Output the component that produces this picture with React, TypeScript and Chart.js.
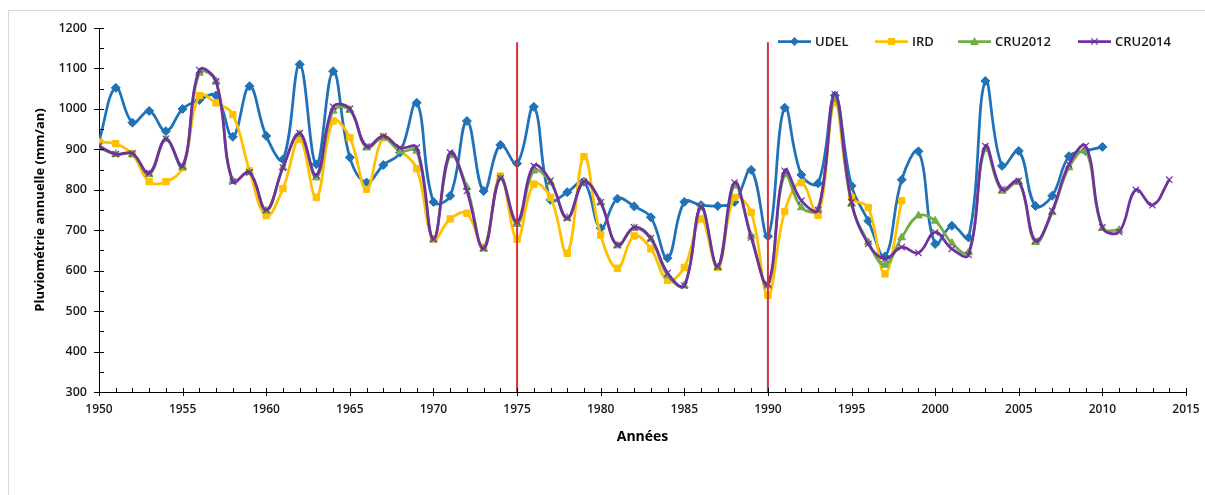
import React, { useEffect, useRef } from "react";
import { Chart, registerables } from "chart.js";

Chart.register(...registerables);

const years = [
  1950, 1951, 1952, 1953, 1954, 1955, 1956, 1957, 1958, 1959,
  1960, 1961, 1962, 1963, 1964, 1965, 1966, 1967, 1968, 1969,
  1970, 1971, 1972, 1973, 1974, 1975, 1976, 1977, 1978, 1979,
  1980, 1981, 1982, 1983, 1984, 1985, 1986, 1987, 1988, 1989,
  1990, 1991, 1992, 1993, 1994, 1995, 1996, 1997, 1998, 1999,
  2000, 2001, 2002, 2003, 2004, 2005, 2006, 2007, 2008, 2009,
  2010, 2011, 2012, 2013, 2014,
];

// 1950-2010
const udel = [
  920, 1052, 966, 995, 945, 1000, 1022, 1033, 931, 1056,
  933, 875, 1110, 863, 1093, 880, 818, 861, 892, 1015,
  770, 785, 970, 797, 911, 865, 1005, 775, 794, 820,
  705, 778, 759, 732, 631, 770, 762, 760, 770, 849,
  685, 1003, 837, 816, 1033, 810, 723, 635, 825, 895,
  666, 711, 682, 1069, 859, 896, 760, 785, 883, 896,
  906,
];

// 1950-1998
const ird = [
  918, 914, 888, 820, 820, 855, 1033, 1015, 986, 847,
  736, 803, 925, 781, 970, 929, 801, 929, 898, 852,
  678, 728, 742, 658, 834, 678, 814, 781, 643, 882,
  688, 606, 686, 654, 576, 608, 728, 608, 781, 744,
  539, 746, 818, 737, 1015, 781, 756, 592, 773,
];

// 1950-2011
const cru2012 = [
  904, 888, 888, 838, 925, 855, 1089, 1068, 822, 843,
  748, 855, 937, 830, 995, 997, 904, 929, 896, 896,
  677, 885, 806, 654, 830, 715, 847, 818, 730, 820,
  769, 662, 705, 678, 588, 563, 756, 608, 810, 686,
  563, 838, 756, 752, 1024, 765, 670, 614, 682, 736,
  723, 668, 645, 900, 797, 819, 670, 744, 855, 896,
  705, 700,
];

// 1950-2014
const cru2014 = [
  908, 888, 890, 841, 926, 859, 1096, 1068, 820, 843,
  750, 855, 940, 836, 1005, 1000, 907, 933, 904, 904,
  678, 892, 797, 655, 828, 721, 859, 822, 730, 820,
  769, 663, 707, 680, 594, 563, 758, 610, 818, 682,
  567, 847, 773, 750, 1036, 769, 666, 629, 658, 644,
  695, 654, 639, 908, 801, 822, 674, 748, 863, 908,
  707, 696, 800, 762, 825,
];

const breakYears = [1975, 1990];
const breakTop = 1165;

const seriesNames = ["UDEL", "IRD", "CRU2012", "CRU2014"];
const seriesColors = ["#1F72B8", "#FFC000", "#70AD47", "#7030A0"];
const seriesMarkers = ["rectRot", "rect", "triangle", "crossRot"];

const FONT = "'Open Sans', 'Liberation Sans', sans-serif";

function toPoints(vals: number[]) {
  return vals.map((v, i) => ({ x: years[i], y: v }));
}

function drawMarker(ctx: CanvasRenderingContext2D, type: string, x: number, y: number, r: number, color: string) {
  ctx.save();
  ctx.fillStyle = color;
  ctx.strokeStyle = color;
  ctx.beginPath();
  if (type === "rectRot") {
    ctx.moveTo(x, y - r);
    ctx.lineTo(x + r, y);
    ctx.lineTo(x, y + r);
    ctx.lineTo(x - r, y);
    ctx.closePath();
    ctx.fill();
  } else if (type === "rect") {
    ctx.rect(x - r * 0.8, y - r * 0.8, r * 1.6, r * 1.6);
    ctx.fill();
  } else if (type === "triangle") {
    ctx.moveTo(x, y - r);
    ctx.lineTo(x + r, y + r * 0.8);
    ctx.lineTo(x - r, y + r * 0.8);
    ctx.closePath();
    ctx.fill();
  } else {
    ctx.lineWidth = 1.2;
    ctx.moveTo(x - r * 0.7, y - r * 0.7);
    ctx.lineTo(x + r * 0.7, y + r * 0.7);
    ctx.moveTo(x + r * 0.7, y - r * 0.7);
    ctx.lineTo(x - r * 0.7, y + r * 0.7);
    ctx.stroke();
  }
  ctx.restore();
}

const customPlugin = {
  id: "excelDecor",
  afterDraw(chart: any) {
    const ctx: CanvasRenderingContext2D = chart.ctx;
    const xs = chart.scales.x;
    const ys = chart.scales.y;
    const axisY = ys.getPixelForValue(300);
    const axisX = xs.getPixelForValue(1950);
    ctx.save();
    ctx.strokeStyle = "#000";
    ctx.lineWidth = 1;
    for (let yr = 1950; yr <= 2015; yr++) {
      const px = Math.round(xs.getPixelForValue(yr)) + 0.5;
      ctx.beginPath();
      if (yr % 5 === 0) {
        ctx.moveTo(px, axisY - 4);
        ctx.lineTo(px, axisY + 4);
      } else {
        ctx.moveTo(px, axisY - 4);
        ctx.lineTo(px, axisY);
      }
      ctx.stroke();
    }
    for (let v = 300; v <= 1200; v += 50) {
      const py = Math.round(ys.getPixelForValue(v)) + 0.5;
      ctx.beginPath();
      if (v % 100 === 0) {
        ctx.moveTo(axisX - 5, py);
        ctx.lineTo(axisX + 5, py);
      } else {
        ctx.moveTo(axisX, py);
        ctx.lineTo(axisX + 5, py);
      }
      ctx.stroke();
    }
    ctx.restore();

    const starts = [778, 875, 958, 1078];
    const ly = 41.5;
    ctx.save();
    ctx.font = `600 13px ${FONT}`;
    ctx.textBaseline = "middle";
    ctx.textAlign = "left";
    seriesNames.forEach((name, i) => {
      const sx = starts[i];
      ctx.strokeStyle = seriesColors[i];
      ctx.lineWidth = 2.75;
      ctx.beginPath();
      ctx.moveTo(sx, ly);
      ctx.lineTo(sx + 33, ly);
      ctx.stroke();
      drawMarker(ctx, seriesMarkers[i], sx + 16.5, ly, 4.5, seriesColors[i]);
      ctx.fillStyle = "#1a1a1a";
      ctx.fillText(name, sx + 37, ly + 1);
    });
    ctx.restore();
  },
};

export default function App() {
  const canvasRef = useRef<HTMLCanvasElement | null>(null);

  useEffect(() => {
    const canvas = canvasRef.current;
    if (!canvas) return;
    const seriesData = [udel, ird, cru2012, cru2014];
    const datasets: any[] = seriesData.map((vals, i) => ({
      label: seriesNames[i],
      data: toPoints(vals),
      borderColor: seriesColors[i],
      backgroundColor: seriesColors[i],
      borderWidth: 2.75,
      pointStyle: seriesMarkers[i],
      pointRadius: 4.5,
      pointBorderWidth: i === 3 ? 1.2 : 1,
      pointBorderColor: seriesColors[i],
      pointBackgroundColor: seriesColors[i],
      tension: 0.4,
      fill: false,
      order: 4 - i,
    }));
    breakYears.forEach((yr) => {
      datasets.push({
        label: "break" + yr,
        data: [
          { x: yr, y: 300 },
          { x: yr, y: breakTop },
        ],
        borderColor: "#D0343A",
        borderWidth: 2,
        pointRadius: 0,
        tension: 0,
        fill: false,
        order: -1,
      });
    });

    const chart = new Chart(canvas, {
      type: "line",
      data: { datasets },
      options: {
        animation: false,
        responsive: false,
        devicePixelRatio: 1,
        layout: { padding: { left: 32, top: 28, right: 19, bottom: 50 } },
        plugins: {
          legend: { display: false },
          tooltip: { enabled: false },
        },
        scales: {
          x: {
            type: "linear",
            min: 1950,
            max: 2015,
            ticks: {
              stepSize: 5,
              padding: 10,
              color: "#1a1a1a",
              font: { family: FONT, size: 12, weight: "600" },
              callback: (v: any) => String(v),
              maxRotation: 0,
            },
            grid: { display: true, drawOnChartArea: false, drawTicks: false, color: "rgba(0,0,0,0)" },
            border: { display: true, color: "#000", width: 1 },
            title: {
              display: true,
              text: "Années",
              color: "#000",
              font: { family: FONT, size: 14, weight: "bold" },
              padding: 0,
            },
            afterFit: (s: any) => {
              s.height = 53;
              s.paddingRight = 0;
              s.paddingLeft = 0;
            },
          },
          y: {
            type: "linear",
            min: 300,
            max: 1200,
            ticks: {
              stepSize: 100,
              padding: 12,
              color: "#1a1a1a",
              font: { family: FONT, size: 12.5, weight: "600" },
              callback: (v: any) => String(v),
            },
            grid: { display: true, drawOnChartArea: false, drawTicks: false, color: "rgba(0,0,0,0)" },
            border: { display: true, color: "#000", width: 1 },
            title: {
              display: true,
              text: "Pluviométrie annuelle (mm/an)",
              color: "#000",
              font: { family: FONT, size: 13, weight: "bold" },
              padding: 0,
            },
            afterFit: (s: any) => {
              s.width = 67;
              s.paddingTop = 0;
              s.paddingBottom = 0;
            },
          },
        },
      } as any,
      plugins: [customPlugin],
    });
    return () => chart.destroy();
  }, []);

  return (
    <div style={{ position: "absolute", left: 0, top: 0, width: 1205, height: 495, overflow: "hidden", background: "#fff" }}>
      <div
        style={{
          position: "absolute",
          left: 8,
          top: 10,
          width: 1197,
          height: 485,
          borderTop: "1px solid #d9d9d9",
          borderLeft: "1px solid #d9d9d9",
          boxSizing: "border-box",
        }}
      />
      <canvas ref={canvasRef} width={1205} height={495} style={{ position: "absolute", left: 0, top: 0, width: 1205, height: 495 }} />
    </div>
  );
}
